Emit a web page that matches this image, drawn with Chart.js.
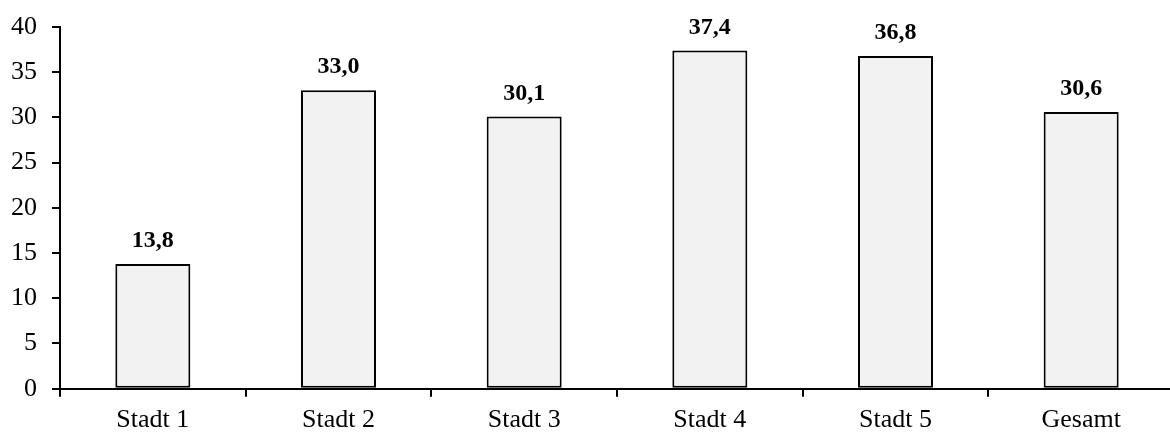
<!DOCTYPE html>
<html>
<head>
<meta charset="utf-8">
<script src="https://cdn.jsdelivr.net/npm/chart.js@4/dist/chart.umd.min.js"></script>
<style>
  html, body { margin: 0; padding: 0; background: #fff; overflow: hidden; }
  #wrap { width: 1174px; height: 433px; }
</style>
</head>
<body>
<div id="wrap"><canvas id="c" width="1174" height="433"></canvas></div>
<script>
const categories = ["Stadt 1", "Stadt 2", "Stadt 3", "Stadt 4", "Stadt 5", "Gesamt"];
const values = [13.8, 33.0, 30.1, 37.4, 36.8, 30.6];
const yTicks = [0, 5, 10, 15, 20, 25, 30, 35, 40];

const serif = '"Liberation Serif", "Times New Roman", serif';

// Writes each bar's value (German decimal comma) above the bar
const valueLabels = {
  id: 'valueLabels',
  afterDatasetsDraw(chart) {
    const ctx = chart.ctx;
    const meta = chart.getDatasetMeta(0);
    ctx.save();
    ctx.font = 'bold 24px ' + serif;
    ctx.fillStyle = '#000';
    ctx.textAlign = 'center';
    ctx.textBaseline = 'alphabetic';
    meta.data.forEach((bar, i) => {
      const txt = values[i].toFixed(1).replace('.', ',');
      ctx.fillText(txt, bar.x, bar.y - 17);
    });
    ctx.restore();
  }
};

new Chart(document.getElementById('c'), {
  type: 'bar',
  data: {
    labels: categories,
    datasets: [{
      data: values,
      backgroundColor: '#f2f2f2',
      borderColor: '#000',
      borderWidth: 2,
      borderSkipped: false,
      barPercentage: 0.404,
      categoryPercentage: 1
    }]
  },
  options: {
    responsive: false,
    animation: false,
    devicePixelRatio: 1,
    layout: { padding: { top: 27, right: 0, left: 0, bottom: 0 } },
    plugins: { legend: { display: false }, tooltip: { enabled: false } },
    scales: {
      x: {
        grid: { offset: true, drawOnChartArea: false, drawTicks: true, tickLength: 8, color: '#000', lineWidth: 2 },
        border: { display: true, color: '#000', width: 2 },
        ticks: { color: '#000', font: { family: serif, size: 26 }, padding: 8, maxRotation: 0 },
        afterFit(scale) { scale.height = 44.3; }
      },
      y: {
        min: 0,
        max: 40,
        afterBuildTicks(scale) { scale.ticks = yTicks.map(v => ({ value: v })); },
        grid: { drawOnChartArea: false, drawTicks: true, tickLength: 8, color: '#000', lineWidth: 2 },
        border: { display: true, color: '#000', width: 2 },
        ticks: { color: '#000', font: { family: serif, size: 26 }, padding: 15 },
        afterFit(scale) {
          scale.width = 60;
          scale.paddingTop = 0;
          scale.paddingBottom = 0;
        }
      }
    }
  },
  plugins: [valueLabels]
});
</script>
</body>
</html>
